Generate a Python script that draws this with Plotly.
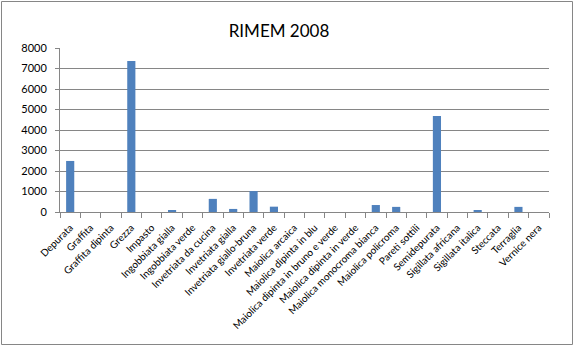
import plotly.graph_objects as go

categories = ["Depurata", "Graffita", "Graffita dipinta", "Grezza", "Impasto",
              "Ingobbiata gialla", "Ingobbiata verde", "Invetriata da cucina",
              "Invetriata gialla", "Invetriata giallo-bruna", "Invetriata verde",
              "Maiolica arcaica", "Maiolica dipinta in blu",
              "Maiolica dipinta in bruno e verde", "Maiolica dipinta in verde",
              "Maiolica monocroma bianca", "Maiolica policroma", "Pareti sottili",
              "Semidepurata", "Sigillata africana", "Sigillata italica", "Steccata",
              "Terraglia", "Vernice nera"]
values = [2490, 0, 0, 7370, 0, 50, 0, 640, 150, 1020, 260, 0, 0, 0, 0,
          340, 250, 0, 4680, 0, 50, 0, 250, 0]
y_ticks = [0, 1000, 2000, 3000, 4000, 5000, 6000, 7000, 8000]

W, H = 575, 346
L, R, T, B = 60, W - 549, 48, H - 212
pw, ph = W - L - R, H - T - B

def px(x):
    return (x - L) / pw

def py(y):
    return (H - B - y) / ph

fig = go.Figure(go.Bar(x=categories, y=values, marker=dict(color="#4F81BD", line=dict(width=0)),
                       width=0.4))

font = "Lato, Calibri, 'Open Sans', sans-serif"
fig.update_layout(
    width=W, height=H,
    margin=dict(l=L, r=R, t=T, b=B, pad=0),
    paper_bgcolor="white", plot_bgcolor="white",
    font=dict(family=font, size=10, color="black"),
    title=dict(text="RIMEM 2008", x=(230 + 328) / 2 / W, xanchor="center",
               y=1 - 31 / H, yanchor="middle",
               font=dict(family=font, size=17, color="black")),
    showlegend=False,
    bargap=0.6,
    xaxis=dict(type="category", tickangle=-45, tickson="boundaries",
               ticks="outside", ticklen=5, tickcolor="#868686",
               showline=True, linecolor="#868686", linewidth=1,
               showgrid=False, tickfont=dict(size=10, family=font),
               ticklabelstandoff=5,
               range=[-0.5, len(categories) - 0.5]),
    yaxis=dict(range=[0, 8000], tickvals=y_ticks, ticks="outside", ticklen=4,
               tickcolor="#868686", showline=True, linecolor="#868686", linewidth=1,
               showgrid=True, gridcolor="#868686", gridwidth=1, zeroline=False,
               ticklabelstandoff=6,
               tickfont=dict(size=11, family=font)),
    shapes=[dict(type="rect", xref="paper", yref="paper",
                 x0=px(1.5), x1=px(572.5), y0=py(344.5), y1=py(1.5),
                 line=dict(color="#868686", width=1), fillcolor="rgba(0,0,0,0)",
                 layer="below")],
)

fig.write_html("out.html")
